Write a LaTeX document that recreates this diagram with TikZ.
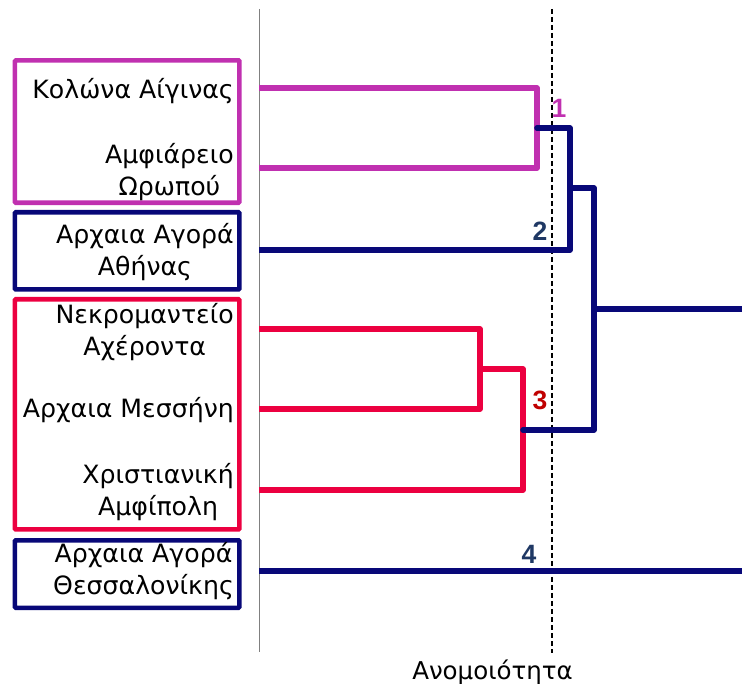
\documentclass[tikz,border=0pt]{standalone}
\usepackage{fontspec}
\setmainfont{DejaVu Sans}
\newfontfamily\numfont{Liberation Sans}
\definecolor{cmag}{RGB}{192,48,176}
\definecolor{cnavy}{RGB}{8,8,120}
\definecolor{cred}{RGB}{236,0,64}
\definecolor{cdkred}{RGB}{192,0,0}
\definecolor{cnum}{RGB}{31,56,100}
\begin{document}
\begin{tikzpicture}[x=1pt,y=-1pt,
  lbl/.style={anchor=east,align=center,inner sep=0pt,font=\fontsize{25.2}{32}\selectfont},
  grpbox/.style={line width=4.6pt,rounded corners=1pt},
  link/.style={line width=5.6pt,line join=round,line cap=round},
  num/.style={font=\numfont\bfseries\fontsize{26.5}{30}\selectfont,inner sep=0pt}]
\useasboundingbox (0,0) rectangle (742,684);
% group boxes
\draw[grpbox,cmag] (14.9,60.4) rectangle (239.4,202.8);
\draw[grpbox,cnavy] (14.9,212.3) rectangle (239.4,289.4);
\draw[grpbox,cred] (14.9,299.3) rectangle (239.4,529.4);
\draw[grpbox,cnavy] (14.9,540.3) rectangle (239.4,607.8);
% labels
\node[lbl] (t1) at (234,91) {Κολώνα Αίγινας};
\node[lbl] (t2) at (234,172) {Αμφιάρειο\\Ωρωπού};
\node[lbl] (t3) at (234,252) {Αρχαια Αγορά\\Αθήνας};
\node[lbl] (t4) at (234,332) {Νεκρομαντείο\\Αχέροντα};
\node[lbl] (t5) at (234,410) {Αρχαια Μεσσήνη};
\node[lbl] (t6) at (234,492) {Χριστιανική\\Αμφίπολη};
\node[lbl] (t7) at (234,571) {Αρχαια Αγορά\\Θεσσαλονίκης};
% axis and cut line
\coordinate (axt) at (259.7,9);
\coordinate (axb) at (259.7,652);
\draw[line width=1.5pt,black!50] (axt) -- (axb);
\coordinate (cutt) at (552,9);
\coordinate (cutb) at (552,653);
\draw[line width=2.5pt,dash pattern=on 5.3pt off 2.7pt] (cutt) -- (cutb);
\node[anchor=base,inner sep=0pt,font=\fontsize{24.5}{28}\selectfont] (xlab) at (492.5,679) {Ανομοιότητα};
% leaves
\coordinate (l1) at (259,88);
\coordinate (l2) at (259,168);
\coordinate (l3) at (259,250);
\coordinate (l4) at (259,329);
\coordinate (l5) at (259,409);
\coordinate (l6) at (259,490);
\coordinate (l7) at (259,571);
% merges
\coordinate (m12) at (537,128);
\coordinate (m123) at (570,188);
\coordinate (m45) at (480,369);
\coordinate (m456) at (523,430);
\coordinate (mtop) at (594,309);
\coordinate (rt) at (742,309);
\coordinate (rb) at (742,571);
\draw[link,cmag,line cap=butt] (l1) -| (m12) |- (l2);
\draw[link,cred,line cap=butt] (l4) -| (m45) |- (l5);
\draw[link,cred] (m45) -| (m456);
\draw[link,cred,line cap=butt] (m456) |- (l6);
\draw[link,cnavy] (m12) -| (m123);
\draw[link,cnavy,line cap=butt] (m123) |- (l3);
\draw[link,cnavy] (m123) -| (mtop) |- (m456);
\draw[link,cnavy,line cap=butt] (mtop) -- (rt);
\draw[link,cnavy,line cap=butt] (l7) -- (rb);
% cluster numbers
\node[num,text=cmag] (n1) at (559,108) {1};
\node[num,text=cnum] (n2) at (540,231) {2};
\node[num,text=cdkred] (n3) at (540,400) {3};
\node[num,text=cnum] (n4) at (529,554) {4};
\end{tikzpicture}
\end{document}
